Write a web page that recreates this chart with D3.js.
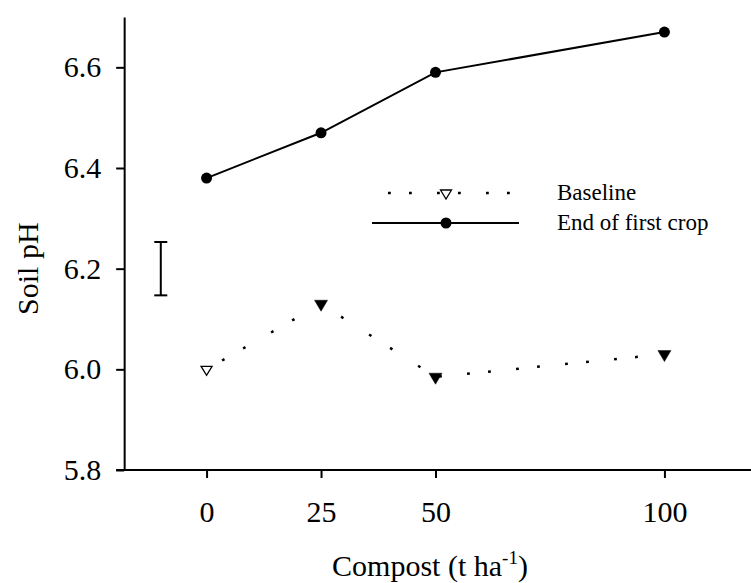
<!DOCTYPE html>
<html>
<head>
<meta charset="utf-8">
<script src="https://cdn.jsdelivr.net/npm/d3@7"></script>
<style>
  body { margin: 0; background: #fff; }
  svg { display: block; }
  svg text { font-family: "Liberation Serif", "Times New Roman", Times, "DejaVu Serif", serif; }
</style>
</head>
<body>
<div id="chart"></div>
<script>
// ===========Data
var compost = [0, 25, 50, 100];
var baseline = [6.00, 6.13, 5.985, 6.03];
var endCrop = [6.38, 6.47, 6.59, 6.67];
var yTicks = [5.8, 6.0, 6.2, 6.4, 6.6];
var errX = -10;
var errRange = [6.147, 6.253];
var legendLabels = ["Baseline", "End of first crop"];

var svgWidth = 751, svgHeight = 583;

var svg = d3.select("#chart").append("svg")
  .attr("width", svgWidth)
  .attr("height", svgHeight);

// ===========Scales
var x = d3.scaleLinear().domain([-20, 120]).range([115, 756]);
var y = d3.scaleLinear().domain([5.8, 6.7]).range([470, 17]);

// ===========Axes
var xAxis = svg.append("g")
  .attr("transform", `translate(0, ${y(5.8)})`)
  .call(d3.axisBottom(x).tickValues(compost).tickSize(8).tickSizeOuter(0).tickPadding(23));

var yAxis = svg.append("g")
  .attr("transform", `translate(${x(-18)}, 0)`)
  .call(d3.axisLeft(y).tickValues(yTicks).tickSize(8).tickSizeOuter(0).tickPadding(15)
    .tickFormat(d3.format(".1f")));

[xAxis, yAxis].forEach(function(a) {
  a.attr("font-family", null);
  a.selectAll("path, line").attr("stroke", "#000").attr("stroke-width", 2);
  a.selectAll("text").attr("fill", "#000").attr("font-size", 30);
});
xAxis.select(".domain").attr("d", `M${x(-18) - 8},0H${svgWidth}`);

// axis titles
var xt = svg.append("text")
  .attr("x", 430).attr("y", 576)
  .attr("text-anchor", "middle")
  .attr("font-size", 30);
xt.append("tspan").text("Compost (t ha");
xt.append("tspan").attr("font-size", 19).attr("dy", -12).text("-1");
xt.append("tspan").attr("dy", 12).text(")");

svg.append("text")
  .attr("transform", `translate(38, ${y(6.2)}) rotate(-90)`)
  .attr("text-anchor", "middle")
  .attr("font-size", 30)
  .text("Soil pH");

// ===========Error bar
var eb = svg.append("g").attr("stroke", "#000").attr("stroke-width", 2);
eb.append("line")
  .attr("x1", x(errX)).attr("x2", x(errX))
  .attr("y1", y(errRange[0])).attr("y2", y(errRange[1]));
errRange.forEach(function(v) {
  eb.append("line")
    .attr("x1", x(errX) - 6.5).attr("x2", x(errX) + 6.5)
    .attr("y1", y(v)).attr("y2", y(v));
});

// ===========Dotted line helper (pattern keeps even spacing along x)
function dottedSeg(g, xa, ya, xb, yb, x0) {
  var dx = xb - xa, len = Math.hypot(xb - xa, yb - ya);
  var f = len / dx;
  var phase = (((xa - x0) % 49) + 49) % 49;
  g.append("line")
    .attr("x1", xa).attr("y1", ya).attr("x2", xb).attr("y2", yb)
    .attr("stroke", "#000").attr("stroke-width", 2.5)
    .attr("stroke-dasharray", [2.8, 21 * f - 2.8, 2.8, 28 * f - 2.8].join(" "))
    .attr("stroke-dashoffset", phase * f);
}

function triDown(cx, cy, w, h) {
  return `M${cx - w / 2},${cy - h / 3}L${cx + w / 2},${cy - h / 3}L${cx},${cy + 2 * h / 3}Z`;
}

// ===========Baseline series
var baseG = svg.append("g");
var x0 = x(0) + 15.5;
for (var i = 0; i < compost.length - 1; i++) {
  dottedSeg(baseG, x(compost[i]), y(baseline[i]), x(compost[i + 1]), y(baseline[i + 1]), x0);
}
baseG.selectAll("path.tri")
  .data(compost)
  .enter()
  .append("path")
  .attr("class", "tri")
  .attr("d", (d, i) => i === 0
    ? triDown(x(d), y(baseline[i]), 11, 9)
    : triDown(x(d), y(baseline[i]), 13, 11))
  .attr("fill", (d, i) => i === 0 ? "#fff" : "#000")
  .attr("stroke", "#000")
  .attr("stroke-width", (d, i) => i === 0 ? 1.3 : 0.5);

// ===========End of first crop series
var line = d3.line().x((d, i) => x(compost[i])).y(d => y(d));
svg.append("path")
  .datum(endCrop)
  .attr("d", line)
  .attr("fill", "none")
  .attr("stroke", "#000")
  .attr("stroke-width", 2);

svg.selectAll("circle.pt")
  .data(endCrop)
  .enter()
  .append("circle")
  .attr("class", "pt")
  .attr("cx", (d, i) => x(compost[i]))
  .attr("cy", d => y(d))
  .attr("r", 5.5)
  .attr("fill", "#000");

// ===========Legend
var lg = svg.append("g");
var lx1 = 372, lx2 = 519, lmid = 446, ly1 = 193, ly2 = 223;
dottedSeg(lg, lx1, ly1, lx2, ly1, lx1 + 16);
lg.append("path")
  .attr("d", triDown(lmid, ly1, 11, 9))
  .attr("fill", "#fff").attr("stroke", "#000").attr("stroke-width", 1.3);
lg.append("line")
  .attr("x1", lx1).attr("x2", lx2).attr("y1", ly2).attr("y2", ly2)
  .attr("stroke", "#000").attr("stroke-width", 2);
lg.append("circle").attr("cx", lmid).attr("cy", ly2).attr("r", 5.5).attr("fill", "#000");

lg.selectAll("text")
  .data(legendLabels)
  .enter()
  .append("text")
  .attr("x", 557)
  .attr("y", (d, i) => (i === 0 ? ly1 : ly2) + 7)
  .attr("font-size", 23)
  .text(d => d);
</script>
</body>
</html>
